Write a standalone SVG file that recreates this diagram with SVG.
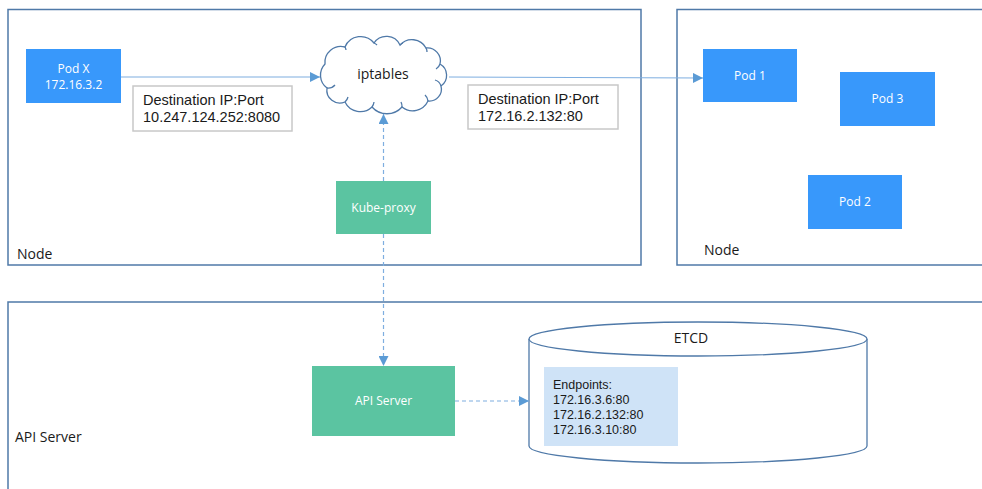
<svg xmlns="http://www.w3.org/2000/svg" width="982" height="489" viewBox="0 0 982 489">
<style>
  .frame{fill:none;stroke:#4f79a8;stroke-width:1.5}
  .pod{fill:#3898fb}
  .green{fill:#5bc4a1}
  .wt{fill:#ffffff;font-family:"Open Sans","Noto Sans",sans-serif;font-size:12px;text-anchor:middle}
  .bt{fill:#1a1a1a;font-family:"Open Sans","Noto Sans",sans-serif;font-size:14px}
  .dt{fill:#1a1a1a;font-family:"Liberation Sans",Arial,sans-serif;font-size:14.5px}
  .et{fill:#1a1a1a;font-family:"Liberation Sans",Arial,sans-serif;font-size:12.5px}
  .lbl{fill:#1a1a1a;font-family:"Open Sans","Noto Sans",sans-serif;font-size:14px}
  .dest{fill:#ffffff;stroke:#c8c8c8;stroke-width:1.5}
  .conn{fill:none;stroke:#7eaee0;stroke-width:1.2}
  .dash{stroke-dasharray:4 3}
</style>
<defs>
  <marker id="ah" viewBox="0 0 10 10" refX="10" refY="5" markerWidth="10" markerHeight="10" markerUnits="userSpaceOnUse" orient="auto">
    <path d="M0,0 L10,5 L0,10 z" fill="#5b9bd5"/>
  </marker>
</defs>
<rect width="982" height="489" fill="#ffffff"/>

<g id="node-left">
  <rect class="frame" x="8" y="9.5" width="633" height="255.5"/>
  <text class="lbl" x="17" y="259">Node</text>
</g>
<g id="node-right">
  <rect class="frame" x="677" y="9.5" width="320" height="255.5"/>
  <text class="lbl" x="704" y="255">Node</text>
</g>
<g id="apiserver-frame">
  <rect class="frame" x="8" y="302" width="990" height="200"/>
  <text class="lbl" x="15" y="442">API Server</text>
</g>

<g id="podx">
  <rect class="pod" x="26" y="49" width="95" height="54"/>
  <text class="wt" x="73.5" y="73">Pod X</text>
  <text class="wt" x="73.5" y="89">172.16.3.2</text>
</g>
<g id="dest1">
  <rect class="dest" x="133" y="86" width="159" height="45"/>
  <text class="dt" x="143" y="105">Destination IP:Port</text>
  <text class="dt" x="143" y="122">10.247.124.252:8080</text>
</g>
<g id="iptables">
  <path d="M325,64 A16,16 0 0 1 345,47 A17,17 0 0 1 374,43 A15,15 0 0 1 400,45 A16,16 0 0 1 426,48 A13,13 0 0 1 440,64 A13,13 0 0 1 441,86 A12,12 0 0 1 428,101 A17,17 0 0 1 402,107 A20,20 0 0 1 372,107 A17,17 0 0 1 345,102 A13,13 0 0 1 327,88 A16,16 0 0 1 325,64 Z" fill="#ffffff" stroke="#4f79a8" stroke-width="1.3"/>
  <path d="M327,88 a9,9 0 0 0 8,-3 M345,102 a10,10 0 0 0 3,-5 M372,107 a10,10 0 0 0 2,-5 M402,107 a10,10 0 0 0 -1,-5 M428,101 a9,9 0 0 0 -3,-6 M441,86 a9,9 0 0 0 -6,-6 M440,64 a9,9 0 0 1 -4,5 M426,48 a8,8 0 0 1 1,4 M400,45 a8,8 0 0 1 3,-2 M374,43 a9,9 0 0 1 3,2 M345,47 a9,9 0 0 1 1,3" fill="none" stroke="#4f79a8" stroke-width="1.3"/>
  <text class="bt" x="383" y="79" text-anchor="middle">iptables</text>
</g>
<g id="dest2">
  <rect class="dest" x="468" y="85" width="150" height="44"/>
  <text class="dt" x="478" y="104">Destination IP:Port</text>
  <text class="dt" x="478" y="121">172.16.2.132:80</text>
</g>
<g id="kubeproxy">
  <rect class="green" x="336" y="181" width="95" height="53"/>
  <text class="wt" x="383.5" y="212">Kube-proxy</text>
</g>
<g id="pod1">
  <rect class="pod" x="703" y="49" width="94" height="53"/>
  <text class="wt" x="750" y="80">Pod 1</text>
</g>
<g id="pod3">
  <rect class="pod" x="840" y="72" width="95" height="54"/>
  <text class="wt" x="887.5" y="103">Pod 3</text>
</g>
<g id="pod2">
  <rect class="pod" x="808" y="175" width="94" height="54"/>
  <text class="wt" x="855" y="206">Pod 2</text>
</g>
<g id="apiserver">
  <rect class="green" x="312" y="366" width="143" height="70"/>
  <text class="wt" x="383.5" y="405">API Server</text>
</g>
<g id="etcd">
  <path d="M529,339 L529,446 A169,17 0 0 0 867,446 L867,339" fill="#ffffff" stroke="#4f79a8" stroke-width="1.3"/>
  <ellipse cx="698" cy="339" rx="169" ry="17" fill="#ffffff" stroke="#4f79a8" stroke-width="1.3"/>
  <text class="bt" x="691" y="343" text-anchor="middle">ETCD</text>
  <rect x="544" y="367" width="134" height="79" fill="#cfe3f7"/>
  <text class="et" x="553" y="389">Endpoints:</text>
  <text class="et" x="553" y="404">172.16.3.6:80</text>
  <text class="et" x="553" y="419">172.16.2.132:80</text>
  <text class="et" x="553" y="434">172.16.3.10:80</text>
</g>

<g id="connectors">
  <line class="conn" x1="121" y1="77" x2="320" y2="77" marker-end="url(#ah)"/>
  <line class="conn" x1="449" y1="77" x2="703" y2="78" marker-end="url(#ah)"/>
  <line class="conn dash" x1="383.5" y1="181" x2="383.5" y2="114" marker-end="url(#ah)"/>
  <line class="conn dash" x1="383.5" y1="234" x2="383.5" y2="366" marker-end="url(#ah)"/>
  <line class="conn dash" x1="455" y1="401" x2="529" y2="401" marker-end="url(#ah)"/>
</g>
</svg>
